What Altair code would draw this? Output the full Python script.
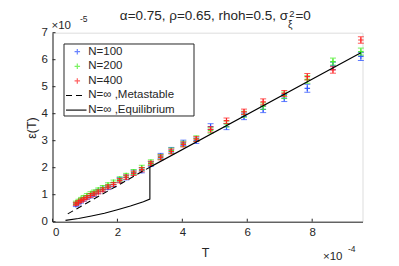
import altair as alt
import pandas as pd

# ---- data (T in units of 1e-4, epsilon in units of 1e-5) ----
T = [0.72, 0.80, 0.88, 0.96, 1.06, 1.17, 1.28, 1.41, 1.55, 1.71, 1.88, 2.07, 2.27, 2.50,
     2.75, 3.03, 3.33, 3.66, 4.03, 4.43, 4.87, 5.36, 5.90, 6.49, 7.14, 7.85, 8.64, 9.50]

eps_n100 = [0.63, 0.69, 0.76, 0.83, 0.90, 0.96, 1.02, 1.12, 1.20, 1.27, 1.37, 1.55, 1.64, 1.82,
            1.90, 2.14, 2.43, 2.65, 2.92, 3.00, 3.52, 3.52, 3.90, 4.16, 4.58, 4.94, 5.77, 6.12]
err_n100 = [0.07, 0.07, 0.07, 0.07, 0.07, 0.08, 0.08, 0.08, 0.08, 0.08, 0.08, 0.09, 0.09, 0.09,
            0.09, 0.09, 0.10, 0.10, 0.10, 0.10, 0.11, 0.11, 0.12, 0.12, 0.13, 0.15, 0.14, 0.15]

eps_n200 = [0.70, 0.77, 0.84, 0.90, 0.97, 1.04, 1.10, 1.18, 1.26, 1.36, 1.46, 1.58, 1.71, 1.84,
            2.00, 2.20, 2.40, 2.63, 2.88, 3.08, 3.38, 3.62, 3.98, 4.28, 4.68, 5.27, 5.93, 6.30]
err_n200 = [0.06, 0.06, 0.06, 0.07, 0.07, 0.07, 0.07, 0.07, 0.08, 0.08, 0.08, 0.08, 0.08, 0.09,
            0.09, 0.09, 0.09, 0.10, 0.10, 0.10, 0.10, 0.11, 0.11, 0.12, 0.12, 0.14, 0.13, 0.13]

eps_n400 = [0.66, 0.72, 0.78, 0.83, 0.90, 0.97, 1.03, 1.10, 1.18, 1.29, 1.38, 1.52, 1.65, 1.79,
            1.93, 2.16, 2.38, 2.60, 2.86, 3.06, 3.42, 3.74, 4.07, 4.44, 4.75, 5.37, 5.62, 6.73]
err_n400 = [0.06, 0.06, 0.06, 0.06, 0.06, 0.07, 0.07, 0.07, 0.07, 0.07, 0.07, 0.08, 0.08, 0.08,
            0.08, 0.08, 0.09, 0.09, 0.09, 0.09, 0.10, 0.10, 0.10, 0.11, 0.11, 0.12, 0.12, 0.12]

eq_T = [0.40, 0.80, 1.20, 1.60, 2.00, 2.40, 2.80, 3.00, 3.00, 9.50]
eq_eps = [0.05, 0.12, 0.21, 0.31, 0.44, 0.58, 0.74, 0.84, 2.02, 6.26]

meta_T = [0.47, 3.00]
meta_eps = [0.29, 2.02]

x_ticks = [0, 2, 4, 6, 8]
y_ticks = [0, 1, 2, 3, 4, 5, 6, 7]

series_names = ["N=100", "N=200", "N=400"]
series_colors = ["#2a50ff", "#44ee22", "#ff2020"]
legend_labels = ["N=100", "N=200", "N=400", "N=\u221e ,Metastable", "N=\u221e ,Equilibrium"]

# ---- layout constants ----
W, H = 310, 189
FONT = "Liberation Sans"
AX = "#262626"
PLUS = "M-1,0L1,0M0,-1L0,1"

xs = alt.Scale(domain=[0, 9.55], nice=False, zero=False)
ys = alt.Scale(domain=[0, 7], nice=False, zero=False)
x_axis = alt.Axis(values=x_ticks, ticks=False, grid=False, title=None, labelFontSize=11.5,
                  labelPadding=5, domainColor=AX, labelColor=AX, labelFont=FONT, format="d")
y_axis = alt.Axis(values=y_ticks, ticks=False, grid=False, title=None, labelFontSize=11.5,
                  labelPadding=5, domainColor=AX, labelColor=AX, labelFont=FONT, format="d")


def X(f):
    return alt.X(f, type="quantitative", scale=xs, axis=x_axis)


def Y(f):
    return alt.Y(f, type="quantitative", scale=ys, axis=y_axis)


one = pd.DataFrame({"a": [0]})


def txt(s, x, y, size=11.5, align="left", baseline="alphabetic", angle=0):
    kw = dict(fontSize=size, font=FONT, align=align, baseline=baseline, color=AX)
    if angle:
        kw["angle"] = angle
    return alt.Chart(one).mark_text(**kw).encode(
        x=alt.value(x), y=alt.value(y), text=alt.value(s))


layers = []

# error bars + markers
for name, eps, err, col in zip(series_names, [eps_n100, eps_n200, eps_n400],
                               [err_n100, err_n200, err_n400], series_colors):
    df = pd.DataFrame({"T": T, "eps": eps,
                       "lo": [e - d for e, d in zip(eps, err)],
                       "hi": [e + d for e, d in zip(eps, err)]})
    base = alt.Chart(df)
    layers.append(base.mark_rule(color=col, strokeWidth=1, opacity=0.75).encode(
        x=X("T"), y=Y("lo"), y2="hi"))
    layers.append(base.mark_tick(color=col, orient="horizontal", size=6, thickness=1,
                                 opacity=0.75).encode(x=X("T"), y=Y("lo")))
    layers.append(base.mark_tick(color=col, orient="horizontal", size=6, thickness=1,
                                 opacity=0.75).encode(x=X("T"), y=Y("hi")))
    layers.append(base.mark_point(shape=PLUS, size=30, filled=False, color=col,
                                  strokeWidth=1.2, opacity=0.9).encode(x=X("T"), y=Y("eps")))

# theory lines
eq_df = pd.DataFrame({"T": eq_T, "eps": eq_eps, "o": list(range(len(eq_T)))})
layers.append(alt.Chart(eq_df).mark_line(color="black", strokeWidth=1.1).encode(
    x=X("T"), y=Y("eps"), order="o:Q"))
meta_df = pd.DataFrame({"T": meta_T, "eps": meta_eps})
layers.append(alt.Chart(meta_df).mark_line(color="black", strokeWidth=1.1,
                                           strokeDash=[6, 4]).encode(x=X("T"), y=Y("eps")))

# inward ticks
xt = pd.DataFrame({"v": x_ticks})
layers.append(alt.Chart(xt).mark_rule(color=AX, strokeWidth=1).encode(
    x=X("v"), y=alt.value(H), y2=alt.value(H - 3)))
yt = pd.DataFrame({"v": y_ticks})
layers.append(alt.Chart(yt).mark_rule(color=AX, strokeWidth=1).encode(
    y=Y("v"), x=alt.value(0), x2=alt.value(3)))

# legend
LX0, LX1, LY0, LY1 = 11.5, 141.5, 11.3, 83.3
layers.append(alt.Chart(one).mark_rect(fill="white", stroke=AX, strokeWidth=1).encode(
    x=alt.value(LX0), x2=alt.value(LX1), y=alt.value(LY0), y2=alt.value(LY1)))
for i, lab in enumerate(legend_labels):
    yy = 19 + 14.6 * i
    if i < 3:
        layers.append(alt.Chart(one).mark_point(shape=PLUS, size=30, filled=False,
                                                color=series_colors[i], strokeWidth=1.2).encode(
            x=alt.value(24.8), y=alt.value(yy)))
    elif i == 3:
        layers.append(alt.Chart(one).mark_rule(color="black", strokeWidth=1.1,
                                               strokeDash=[6, 4]).encode(
            x=alt.value(13.5), x2=alt.value(30), y=alt.value(yy)))
    else:
        layers.append(alt.Chart(one).mark_rule(color="black", strokeWidth=1.1).encode(
            x=alt.value(13.5), x2=alt.value(34), y=alt.value(yy)))
    layers.append(txt(lab, 35.8, yy, size=11.5, baseline="middle"))

# titles and exponent labels
layers.append(txt("\u03b1=0.75, \u03c1=0.65, rhoh=0.5, \u03c3", 235.5, -12.4, size=13.5, align="right"))
layers.append(txt("2", 236.8, -16.0, size=9.5))
layers.append(txt("\u03be", 235.5, -5.0, size=10))
layers.append(txt("=0", 243.0, -12.4, size=13.5))
layers.append(txt("\u00d710", -1.0, -3.4, size=11.5))
layers.append(txt("-5", 27.5, -11.0, size=8.5))
layers.append(txt("\u00d710", 270.5, 227.3, size=11.5))
layers.append(txt("-4", 295.5, 219.0, size=8.5))
layers.append(txt("T", 153, 224, size=12.5, align="center"))
layers.append(txt("\u03b5(T)", -20.5, 95.3, size=12.5, align="center", baseline="middle", angle=270))

chart = alt.layer(*layers).properties(
    width=W, height=H,
    padding={"left": 44.5, "top": 24.7, "right": 20, "bottom": 40},
    autosize=alt.AutoSizeParams(type="none"),
).configure_view(stroke=None).configure(background="white")

chart.save("out.html", embed_options={"renderer": "svg", "actions": False})
